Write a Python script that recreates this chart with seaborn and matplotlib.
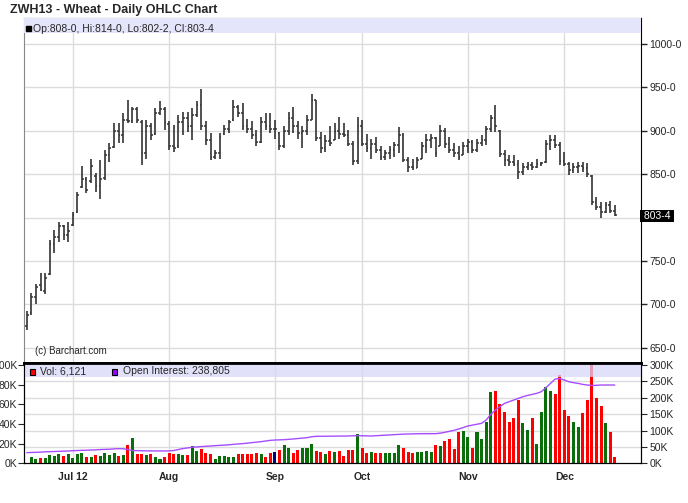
import numpy as np
import pandas as pd
import matplotlib
matplotlib.use('Agg')
import matplotlib.pyplot as plt
from matplotlib.patches import Rectangle
import seaborn as sns

# trading days, Jun 18 - Dec 18 2012
holidays = pd.to_datetime(['2012-07-04', '2012-09-03', '2012-11-22'])
dates = pd.bdate_range('2012-06-18', '2012-12-18')
dates = dates[~dates.isin(holidays)]

# daily OHLC (cents/bu)
opens = [675, 690, 708, 722, 716, 735, 770, 778, 790, 780,
         792, 806, 835, 845, 842, 848, 836, 846, 872, 881,
         900, 895, 912, 911, 925, 910, 875, 905, 896, 920,
         925, 908, 882, 882, 910, 915, 905, 918, 930, 905,
         890, 870, 875, 896, 902, 912, 928, 920, 905, 902,
         895, 887, 910, 905, 902, 898, 882, 900, 915, 905,
         897, 900, 913, 935, 892, 880, 888, 890, 900, 896,
         895, 885, 865, 905, 885, 880, 885, 878, 870, 874,
         878, 884, 895, 866, 858, 857, 868, 882, 890, 892,
         883, 900, 885, 878, 874, 872, 882, 887, 878, 886,
         890, 902, 915, 900, 873, 866, 864, 862, 852, 858,
         861, 858, 862, 864, 885, 890, 884, 865, 862, 855,
         858, 860, 857, 848, 818, 812, 806, 815, 808]
highs = [692, 713, 724, 736, 736, 774, 786, 795, 792, 795,
         807, 830, 859, 847, 867, 851, 866, 878, 886, 909,
         909, 920, 936, 928, 928, 912, 912, 909, 926, 934,
         928, 911, 907, 918, 922, 922, 926, 934, 948, 911,
         897, 878, 897, 907, 913, 935, 930, 932, 914, 911,
         901, 916, 920, 920, 912, 899, 905, 922, 928, 911,
         905, 918, 943, 936, 899, 895, 905, 909, 916, 909,
         901, 888, 916, 912, 896, 891, 893, 882, 878, 882,
         887, 904, 897, 870, 868, 870, 887, 896, 896, 893,
         907, 903, 893, 886, 882, 887, 891, 889, 891, 895,
         906, 918, 930, 901, 878, 872, 872, 866, 863, 864,
         864, 868, 864, 889, 895, 895, 887, 876, 864, 863,
         864, 864, 863, 849, 824, 818, 818, 819, 814]
lows = [670, 688, 701, 715, 712, 734, 759, 772, 774, 772,
        790, 805, 834, 828, 840, 830, 822, 843, 864, 880,
        886, 886, 909, 909, 909, 861, 868, 889, 895, 918,
        901, 878, 876, 880, 895, 899, 889, 916, 901, 884,
        866, 868, 868, 895, 898, 911, 916, 901, 897, 891,
        882, 886, 901, 897, 891, 878, 880, 895, 897, 891,
        880, 895, 912, 888, 874, 876, 882, 889, 891, 893,
        882, 861, 862, 882, 876, 868, 874, 866, 866, 868,
        870, 874, 864, 852, 855, 857, 868, 874, 880, 870,
        882, 880, 874, 870, 866, 872, 874, 874, 876, 882,
        884, 899, 899, 870, 859, 859, 859, 845, 849, 855,
        855, 857, 859, 863, 878, 880, 861, 859, 849, 851,
        851, 853, 847, 815, 809, 800, 805, 805, 802.25]
closes = [688, 708, 720, 717, 730, 770, 778, 790, 780, 785,
          803, 826, 845, 832, 860, 836, 845, 872, 880, 900,
          895, 912, 911, 925, 912, 875, 905, 895, 920, 925,
          910, 882, 880, 910, 915, 905, 918, 930, 905, 890,
          870, 875, 893, 902, 910, 928, 920, 905, 902, 895,
          887, 910, 905, 902, 902, 882, 900, 915, 905, 897,
          900, 912, 935, 892, 880, 888, 886, 900, 896, 895,
          885, 865, 905, 885, 880, 885, 878, 870, 874, 878,
          884, 895, 866, 858, 857, 866, 882, 890, 892, 875,
          900, 885, 878, 874, 870, 882, 887, 878, 886, 890,
          902, 915, 905, 873, 866, 864, 862, 852, 858, 861,
          858, 862, 863, 885, 890, 884, 865, 862, 855, 858,
          860, 857, 850, 818, 812, 806, 815, 808, 803.5]

# volume (thousands, left scale) and open interest (thousands, right scale)
volume_k = [0, 6.8, 4.4, 5.4, 5.4, 8.5, 7.8, 9.5, 7.8, 9.5,
            5.4, 9.5, 10.5, 6.8, 6.8, 8.5, 7.8, 10.5, 8.5, 10.5,
            7.8, 8.5, 18.6, 25.8, 9.5, 9.5, 8.5, 9.5, 6.4, 4.4,
            6.8, 10.5, 9.5, 9.5, 8.8, 8.8, 17.6, 12.5, 14.6, 10.5,
            9.5, 4.4, 7.8, 7.8, 6.8, 6.8, 9.2, 9.8, 9.5, 9.5,
            10.5, 9.5, 6.8, 10.5, 11.5, 13.6, 18.6, 15.6, 10.5, 13.6,
            15.3, 15.3, 19.3, 12.2, 11.5, 9.5, 12.5, 11.5, 12.5, 7.8,
            13.6, 13.3, 30.0, 16.0, 10.7, 11.7, 10.0, 10.0, 10.0, 10.0,
            10.7, 19.0, 16.0, 11.7, 10.0, 11.0, 11.7, 12.7, 11.7, 19.0,
            17.3, 22.3, 24.3, 15.0, 31.7, 33.3, 26.7, 16.0, 31.7, 24.3,
            41.7, 72.7, 74.0, 60.0, 51.7, 41.7, 45.7, 64.3, 40.7, 34.3,
            46.0, 20.0, 52.3, 77.3, 73.3, 70.0, 90.0, 54.3, 48.3, 41.7,
            36.7, 51.0, 64.3, 105.0, 66.7, 58.3, 40.7, 32.3, 6.121]
oi_k = [32.5, 33, 33.5, 34, 35, 35.6, 36, 36.5, 37, 37.5,
        38.5, 39, 39.5, 40, 40.5, 41, 42, 42.5, 43, 44,
        44.7, 44.5, 42, 39, 38.6, 38.2, 38, 38, 37.8, 37.6,
        37.6, 37.8, 39, 42, 45, 47, 48.8, 50, 51, 52,
        53, 53.8, 54.5, 55.5, 56.5, 57.9, 59, 60, 61.5, 63,
        64.5, 66, 68, 70, 71, 71.5, 72.1, 73, 74.2, 75.5,
        77, 78.2, 81, 82.3, 82.5, 82.5, 82.8, 83, 83, 83.2,
        83.3, 84, 84.3, 84, 83.8, 83.3, 84, 85, 85.8, 86.4,
        87.5, 88.3, 89, 89.4, 90, 90.2, 90.4, 90.4, 90.4, 90.4,
        92, 94.5, 97.5, 100.6, 104.6, 109, 113.8, 116.5, 118.9, 121.9,
        132.1, 149.4, 162.6, 172.7, 182.9, 188, 193, 198, 203.2, 207,
        210.3, 213.4, 218.4, 230.6, 243.8, 257, 259, 254, 248.9, 246,
        243.8, 240.8, 238.8, 237.7, 238, 238.8, 238.8, 238.8, 238.805]

month_labels = ['Jul 12', 'Aug', 'Sep', 'Oct', 'Nov', 'Dec']
price_ticks = [650, 700, 750, 800, 850, 900, 950, 1000]


def eighths(p):
    return f'{int(p)}-{int(round((p % 1) * 8))}'


def fxy(x, y):
    return x / 688, 1 - y / 503


sns.set_style('white')
plt.rcParams['font.family'] = ['Liberation Sans', 'DejaVu Sans']

idx = np.arange(len(dates))
month_pos = [i for i in range(1, len(dates)) if dates[i].month != dates[i - 1].month]

fig = plt.figure(figsize=(6.88, 5.03), dpi=100)
ax = fig.add_axes([24 / 688, 1 - 363 / 503, 617 / 688, 345 / 503])
axv = fig.add_axes([24 / 688, 1 - 463.3 / 503, 617 / 688, 100.3 / 503], sharex=ax)

grid_c = '#dcdcdc'
bar_c = '#333333'

# price panel
for m in month_pos:
    ax.axvline(m, color=grid_c, lw=1, zorder=0)
for t in price_ticks:
    ax.axhline(t, color=grid_c, lw=1, zorder=0)
ax.vlines(idx, lows, highs, color=bar_c, lw=1.2, zorder=3)
ax.hlines(opens, idx - 0.38, idx, color=bar_c, lw=1.1, zorder=3)
ax.hlines(closes, idx, idx + 0.38, color=bar_c, lw=1.1, zorder=3)
ax.axhspan(1012.7, 1030, color='#e4e4fa', zorder=4, lw=0)
ax.set_xlim(-0.6, 133.7)
ax.set_ylim(632.5, 1030)
ax.yaxis.tick_right()
ax.set_yticks(price_ticks)
ax.set_yticklabels(['' if t == 800 else f'{t}-0' for t in price_ticks])
ax.tick_params(axis='y', direction='out', length=4, width=1, pad=2, labelsize=7.5)
ax.tick_params(axis='x', length=0, labelbottom=False)
ax.text(1.0, closes[-1] - 1.5, ' ' + eighths(closes[-1]) + ' ', transform=ax.get_yaxis_transform(),
        ha='left', va='center', color='white', fontsize=7.5,
        bbox=dict(facecolor='black', edgecolor='none', pad=0.6), clip_on=False)
ax.spines['left'].set_color('#888888')
for s in ['top', 'right']:
    ax.spines[s].set_color('black')
ax.spines['bottom'].set_linewidth(2)
ax.spines['bottom'].set_color('black')
ax.text(0.018, 0.035, '(c) Barchart.com', transform=ax.transAxes, fontsize=7, va='center')

# volume panel
direction = np.sign(np.diff(closes, prepend=closes[0]))
dir_lab = np.where(direction > 0, 'up', np.where(direction < 0, 'down', 'flat'))
vol_df = pd.DataFrame({'idx': idx, 'vol': volume_k, 'dir': dir_lab})
for m in month_pos:
    axv.axvline(m, color=grid_c, lw=1, zorder=0)
for k in range(1, 6):
    axv.axhline(k * 50 / 3, color=grid_c, lw=1, zorder=0)
sns.barplot(data=vol_df, x='idx', y='vol', hue='dir', native_scale=True, dodge=False,
            palette={'up': '#0a6e0a', 'down': '#ff0000', 'flat': '#000080'},
            width=0.66, saturation=1, errorbar=None, legend=False, linewidth=0, ax=axv)
axv.axhspan(87.8, 102, color='#d7d7f8', alpha=0.75, zorder=5, lw=0)
axv.set_xlim(-0.6, 133.7)
axv.set_ylim(0, 102)
axv.set_xlabel('')
axv.set_ylabel('')
axv.set_yticks([0, 20, 40, 60, 80, 100])
axv.set_yticklabels([f'{v}K' for v in [0, 20, 40, 60, 80, 100]])
axv.tick_params(axis='y', direction='out', length=4, pad=1, labelsize=7.5)
axv.set_xticks(month_pos)
axv.set_xticklabels(month_labels, fontweight='bold')
axv.tick_params(axis='x', direction='out', length=3, pad=3, labelsize=7.5)
for s in axv.spines.values():
    s.set_color('black')

axo = axv.twinx()
sns.lineplot(x=idx, y=oi_k, color='#a64dff', lw=1, errorbar=None, ax=axo)
axo.set_ylim(0, 306)
axo.set_yticks([0, 50, 100, 150, 200, 250, 300])
axo.set_yticklabels([f'{v}K' for v in [0, 50, 100, 150, 200, 250, 300]])
axo.tick_params(axis='y', direction='out', length=4, pad=2, labelsize=7.5)
for s in axo.spines.values():
    s.set_color('black')
axo.spines['top'].set_linewidth(2)

# title and legends
fig.text(*fxy(10, 10), 'ZWH13 - Wheat - Daily OHLC Chart', fontsize=9, fontweight='bold', va='center')
fig.add_artist(Rectangle(fxy(25.5, 31), 5 / 688, 5 / 503, transform=fig.transFigure, color='black'))
fig.text(*fxy(33, 28.5), f'Op:{eighths(opens[-1])}, Hi:{eighths(highs[-1])}, '
         f'Lo:{eighths(lows[-1])}, Cl:{eighths(closes[-1])}', fontsize=7.5, va='center')
fig.add_artist(Rectangle(fxy(29.5, 374.5), 5.5 / 688, 5.5 / 503, transform=fig.transFigure,
                         facecolor='#ff0000', edgecolor='black', lw=0.8))
fig.text(*fxy(40, 371.5), f'Vol: {round(volume_k[-1] * 1000):,}', fontsize=7.5, va='center')
fig.add_artist(Rectangle(fxy(111.5, 374.5), 5.5 / 688, 5.5 / 503, transform=fig.transFigure,
                         facecolor='#9900ff', edgecolor='black', lw=0.8))
fig.text(*fxy(123, 371.5), f'Open Interest: {round(oi_k[-1] * 1000):,}', fontsize=7.5, va='center')

fig.savefig('out.png', dpi=100)
